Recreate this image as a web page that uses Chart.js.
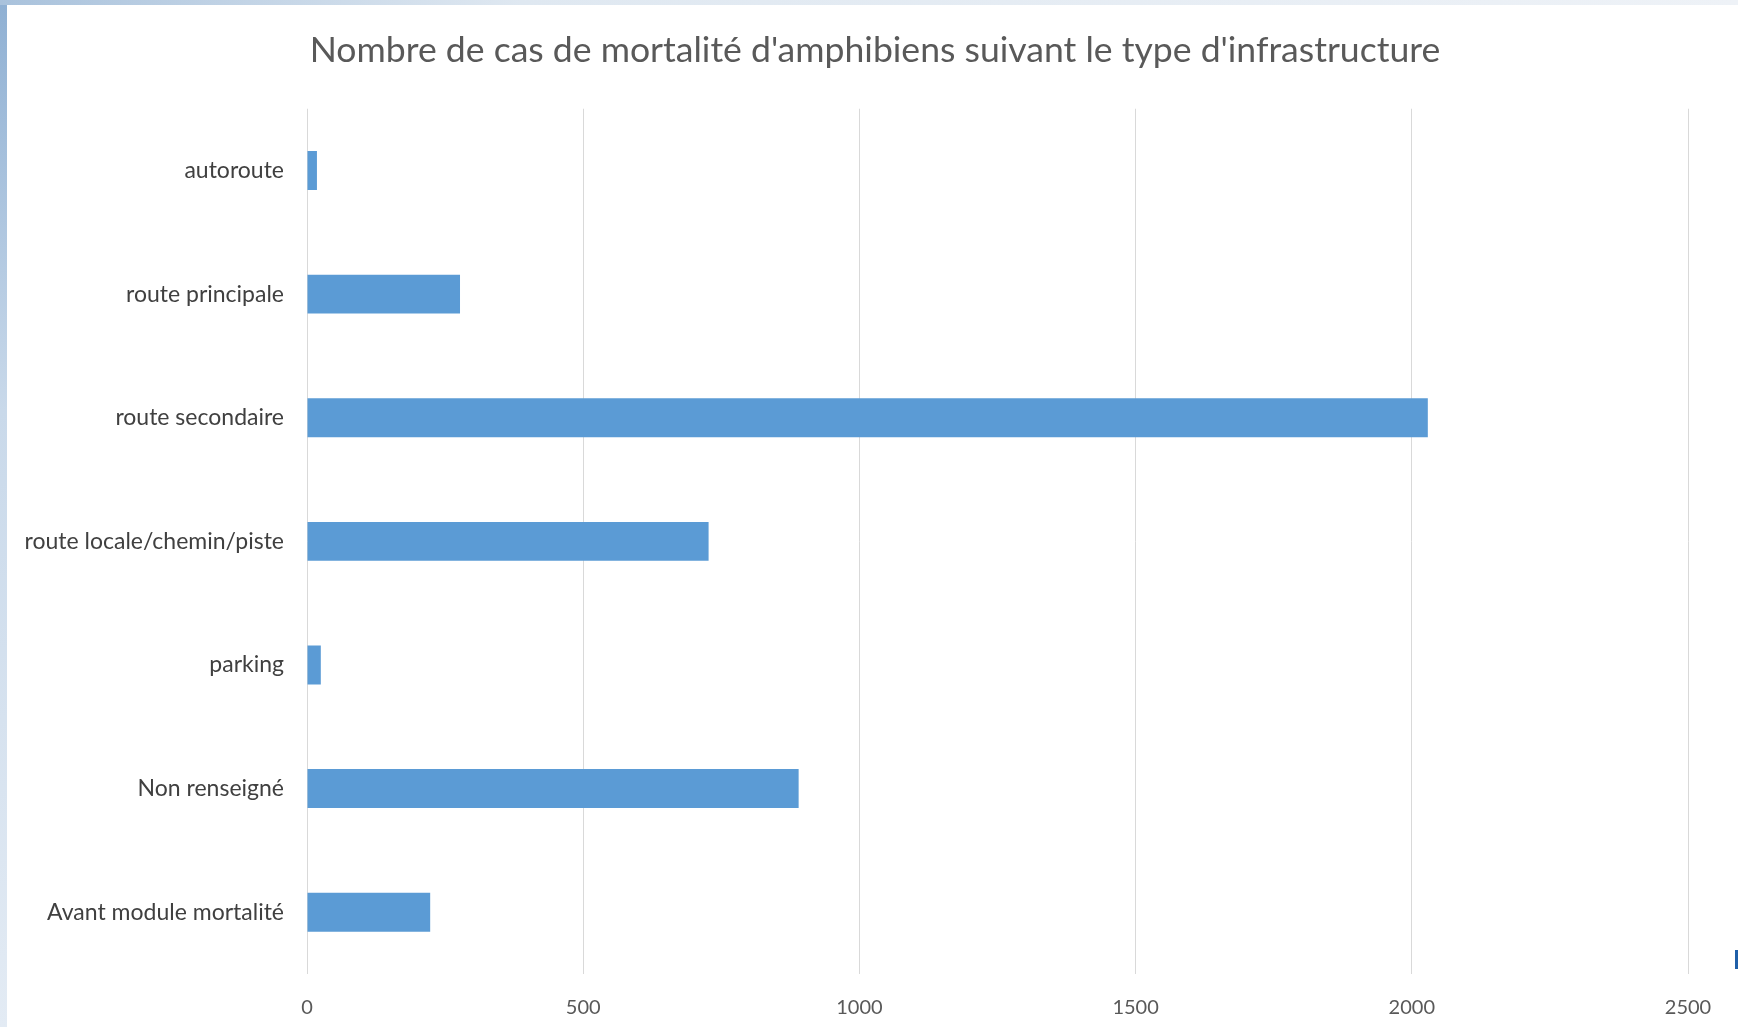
<!DOCTYPE html>
<html>
<head>
<meta charset="utf-8">
<script src="https://cdn.jsdelivr.net/npm/chart.js@4"></script>
<style>
  html, body { margin: 0; padding: 0; background: #fff; }
  #wrap { position: relative; width: 1738px; height: 1027px; overflow: hidden; }
  #frameLeft { position: absolute; left: 0; top: 0; width: 7px; height: 1027px;
    background: linear-gradient(to bottom, #8fb0d3, #c9d9ea 40%, #e3ebf4); pointer-events: none; }
  #frameTop { position: absolute; left: 0; top: 0; width: 1738px; height: 5px;
    background: linear-gradient(to right, #a9c2dc, #dfe8f1 30%, #eef2f7); pointer-events: none; }
  #mark { position: absolute; left: 1735px; top: 950px; width: 3px; height: 19px; background: #1f5fa8; }
</style>
</head>
<body>
<div id="wrap">
  <canvas id="mortalite" width="1738" height="1027"></canvas>
  <div id="frameLeft"></div>
  <div id="frameTop"></div>
  <div id="mark"></div>
</div>
<script>
Chart.defaults.color = '#595959';
Chart.defaults.font.family = 'Lato, "Open Sans", sans-serif';

const barColor = '#5b9bd5';
const gridColor = '#d9d9d9';

const categories = ['autoroute', 'route principale', 'route secondaire', 'route locale/chemin/piste', 'parking', 'Non renseigné', 'Avant module mortalité'];
const cases = [18, 277, 2029, 727, 25, 890, 223];
const xTicks = [0, 500, 1000, 1500, 2000, 2500];

const canvas = document.getElementById('mortalite');

// nudge the title box so it's centred like the original
const titleShift = {
  id: 'titleShift',
  afterLayout: c => { if (c.titleBlock) c.titleBlock.left += 62; }
};

new Chart(canvas, {
  type: 'bar',
  data: {
    labels: categories,
    datasets: [{
      data: cases,
      backgroundColor: barColor,
      borderWidth: 0,
      barPercentage: 0.315,
      categoryPercentage: 1
    }]
  },
  options: {
    indexAxis: 'y',
    responsive: false,
    animation: false,
    layout: { padding: { left: 0, right: 50, top: 0, bottom: 0 } },
    plugins: {
      legend: { display: false },
      tooltip: { enabled: false },
      title: {
        display: true,
        text: "Nombre de cas de mortalité d'amphibiens suivant le type d'infrastructure",
        color: '#595959',
        font: { size: 35.6, weight: 'normal' },
        padding: { top: 29, bottom: 37 }
      }
    },
    scales: {
      x: {
        min: 0,
        max: 2500,
        afterBuildTicks: s => { s.ticks = xTicks.map(v => ({ value: v })); },
        afterFit: s => { s.height = 53; },
        border: { display: false },
        grid: { color: gridColor, lineWidth: 1, drawTicks: false },
        ticks: { padding: 22, font: { size: 20 }, color: '#595959', callback: v => String(v) }
      },
      y: {
        afterFit: s => { s.width = 307; },
        border: { display: false },
        grid: { display: false, drawTicks: false },
        ticks: { padding: 23, font: { size: 23 }, color: '#404040' }
      }
    }
  },
  plugins: [titleShift]
});
</script>
</body>
</html>
